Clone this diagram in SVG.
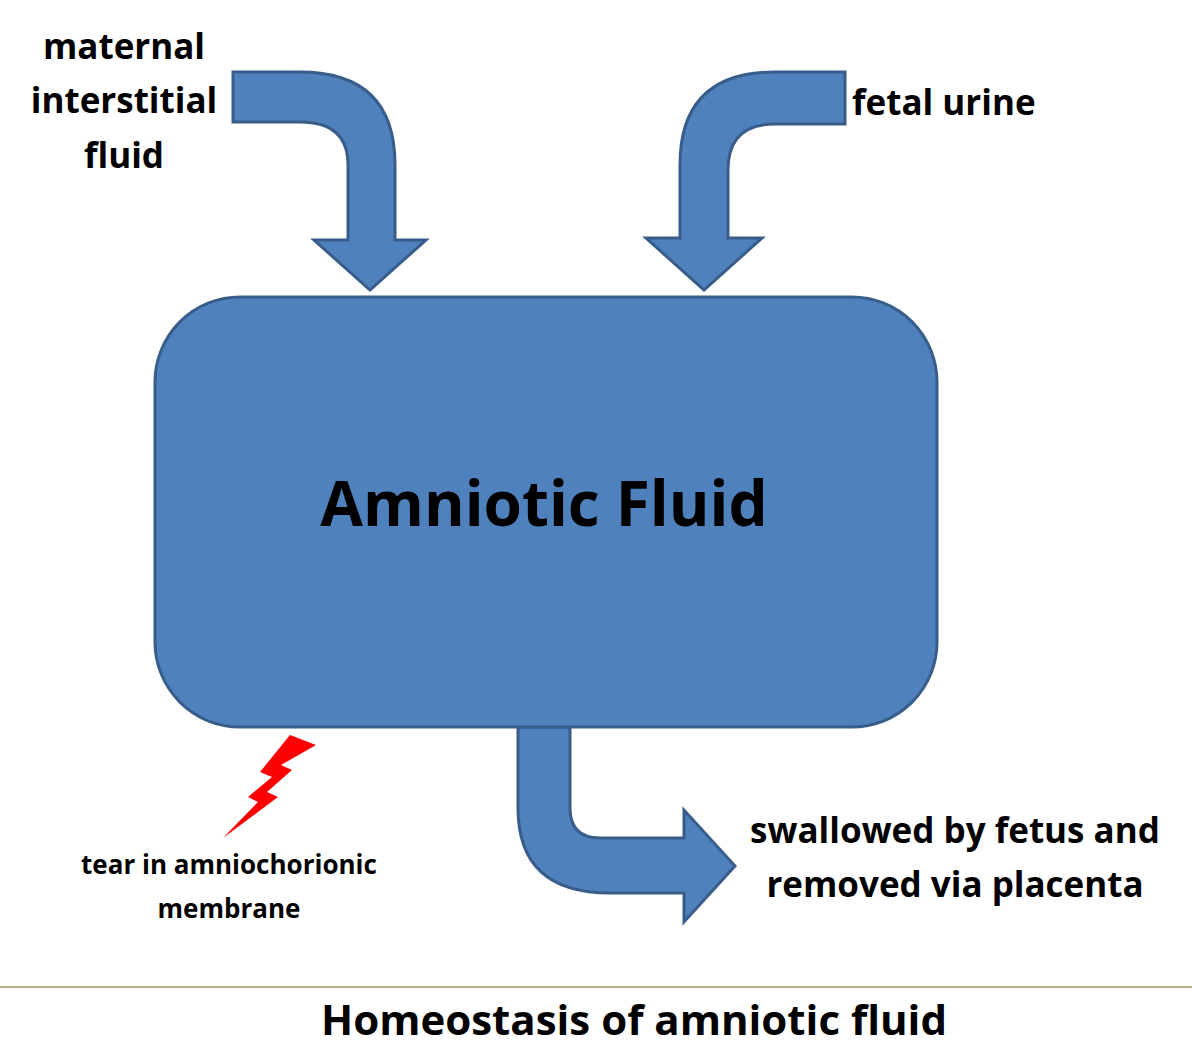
<svg xmlns="http://www.w3.org/2000/svg" width="1192" height="1051" viewBox="0 0 1192 1051">
<style>
.sh{fill:#4f81bd;stroke:#385d8a;stroke-width:3}
.lb{font-family:"Open Sans","Liberation Sans",sans-serif;font-weight:bold;fill:#000}
</style>
<rect width="1192" height="1051" fill="#fff"/>
<g id="connectors">
<path class="sh" d="M233,72 L300,72 Q395,72 395,165 L395,240 L426,240 L370,290 L314,240 L348,240 L348,165 Q348,122 300,122 L233,122 Z"/>
<path class="sh" d="M845,72 L775,72 Q680,72 680,165 L680,238 L646,238 L704,290 L762,238 L728,238 L728,170 Q728,124 775,124 L845,124 Z"/>
<path class="sh" d="M518,727 L570,727 L570,808 Q570,838 600,838 L684,838 L684,810 L735,866 L684,922 L684,893 L610,893 Q518,893 518,808 Z"/>
</g>
<g id="amniotic">
<rect class="sh" x="155" y="297" width="782" height="430" rx="85"/>
<text class="lb" x="544" y="526" font-size="62" text-anchor="middle" font-family="'DejaVu Sans',sans-serif" font-weight="900">Amniotic Fluid</text>
</g>
<g id="maternal"><text class="lb" font-size="35" text-anchor="middle"><tspan x="124" y="59">maternal</tspan><tspan x="124" y="113">interstitial</tspan><tspan x="124" y="168">fluid</tspan></text></g>
<g id="urine"><text class="lb" x="852" y="115" font-size="35">fetal urine</text></g>
<g id="swallowed"><text class="lb" font-size="35" text-anchor="middle"><tspan x="955" y="843">swallowed by fetus and</tspan><tspan x="955" y="897">removed via placenta</tspan></text></g>
<g id="tear">
<path d="M316,745 L290,735 L260,772 L272,777 L248,797 L258,802 L223,838 L278,797 L267,792 L292,770 L281,765 Z" fill="#ff0000"/>
<text class="lb" font-size="26" text-anchor="middle"><tspan x="229" y="874">tear in amniochorionic</tspan><tspan x="229" y="918">membrane</tspan></text>
</g>
<line x1="0" y1="987" x2="1192" y2="987" stroke="#a09060" stroke-width="1.5"/>
<text class="lb" x="634" y="1035" font-size="42" text-anchor="middle">Homeostasis of amniotic fluid</text>
</svg>
